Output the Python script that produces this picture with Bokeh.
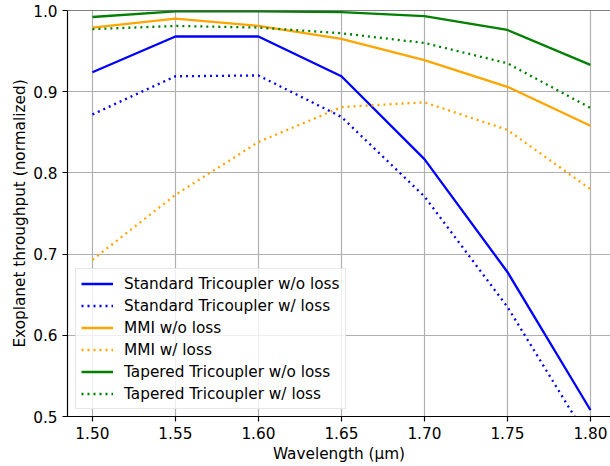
from bokeh.plotting import figure
from bokeh.models import FixedTicker, Legend, LegendItem, Range1d, Span
from bokeh.embed import file_html
from bokeh.resources import INLINE

wavelength = [1.50, 1.55, 1.60, 1.65, 1.70, 1.75, 1.80]
std_no_loss = [0.924, 0.968, 0.968, 0.919, 0.817, 0.678, 0.508]
std_loss = [0.872, 0.919, 0.920, 0.869, 0.771, 0.635, 0.468]
mmi_no_loss = [0.979, 0.990, 0.981, 0.965, 0.939, 0.906, 0.858]
mmi_loss = [0.693, 0.773, 0.838, 0.881, 0.887, 0.853, 0.780]
tap_no_loss = [0.992, 0.999, 0.999, 0.998, 0.993, 0.976, 0.933]
tap_loss = [0.977, 0.981, 0.979, 0.972, 0.960, 0.935, 0.880]

series_names = ["Standard Tricoupler w/o loss", "Standard Tricoupler w/ loss",
                "MMI w/o loss", "MMI w/ loss",
                "Tapered Tricoupler w/o loss", "Tapered Tricoupler w/ loss"]
series_values = [std_no_loss, std_loss, mmi_no_loss, mmi_loss, tap_no_loss, tap_loss]
series_colors = ["blue", "blue", "orange", "orange", "green", "green"]
series_dashes = ["solid", "2 4", "solid", "2 4", "solid", "2 4"]

x_ticks = [1.50, 1.55, 1.60, 1.65, 1.70, 1.75, 1.80]
x_tick_labels = ["1.50", "1.55", "1.60", "1.65", "1.70", "1.75", "1.80"]
y_ticks = [0.5, 0.6, 0.7, 0.8, 0.9, 1.0]
y_tick_labels = ["0.5", "0.6", "0.7", "0.8", "0.9", "1.0"]

FONT = "DejaVu Sans"
FS = "15.3px"

p = figure(width=610, height=466, output_backend="svg", toolbar_location=None,
           x_range=Range1d(1.485, 1.8121), y_range=Range1d(0.5, 1.0),
           min_border_left=67, min_border_right=0, min_border_top=10,
           min_border_bottom=50,
           background_fill_color="white", border_fill_color="white")
p.outline_line_color = None

items = []
for name, vals, col, dash in zip(series_names, series_values, series_colors, series_dashes):
    r = p.line(wavelength, vals, line_color=col, line_width=2.3, line_dash=dash)
    items.append(LegendItem(label=name, renderers=[r]))

p.add_layout(Span(location=1.0, dimension="width", line_color="black", line_width=1.2))

for ax in (p.xaxis[0], p.yaxis[0]):
    ax.axis_line_color = "black"
    ax.axis_line_width = 1.2
    ax.major_tick_line_color = "black"
    ax.major_tick_line_width = 1.2
    ax.major_tick_out = 5
    ax.major_tick_in = 0
    ax.minor_tick_out = 0
    ax.minor_tick_in = 0
    ax.major_label_text_font = FONT
    ax.major_label_text_font_size = FS
    ax.major_label_text_color = "black"
    ax.major_label_standoff = 5
    ax.axis_label_text_font = FONT
    ax.axis_label_text_font_size = FS
    ax.axis_label_text_font_style = "normal"
    ax.axis_label_text_color = "black"

p.xaxis.axis_label_standoff = 3
p.yaxis.axis_label_standoff = 1

p.xaxis.ticker = FixedTicker(ticks=x_ticks)
p.xaxis.major_label_overrides = dict(zip(x_ticks, x_tick_labels))
p.yaxis.ticker = FixedTicker(ticks=y_ticks)
p.yaxis.major_label_overrides = dict(zip(y_ticks, y_tick_labels))
p.xaxis.axis_label = "Wavelength (µm)"
p.yaxis.axis_label = "Exoplanet throughput (normalized)"

p.grid.grid_line_color = "#b0b0b0"
p.grid.grid_line_width = 1.2

legend = Legend(items=items, location=(8, 7))
legend.label_text_font = FONT
legend.label_text_font_size = FS
legend.label_text_color = "black"
legend.glyph_width = 32
legend.glyph_height = 19
legend.label_height = 19
legend.label_standoff = 11
legend.spacing = 3
legend.padding = 5
legend.margin = 0
legend.border_line_color = "#d0d0d0"
legend.border_line_width = 1
legend.background_fill_color = "white"
legend.background_fill_alpha = 0.8
p.add_layout(legend, "center")

open("out.html", "w").write(file_html(p, INLINE))
